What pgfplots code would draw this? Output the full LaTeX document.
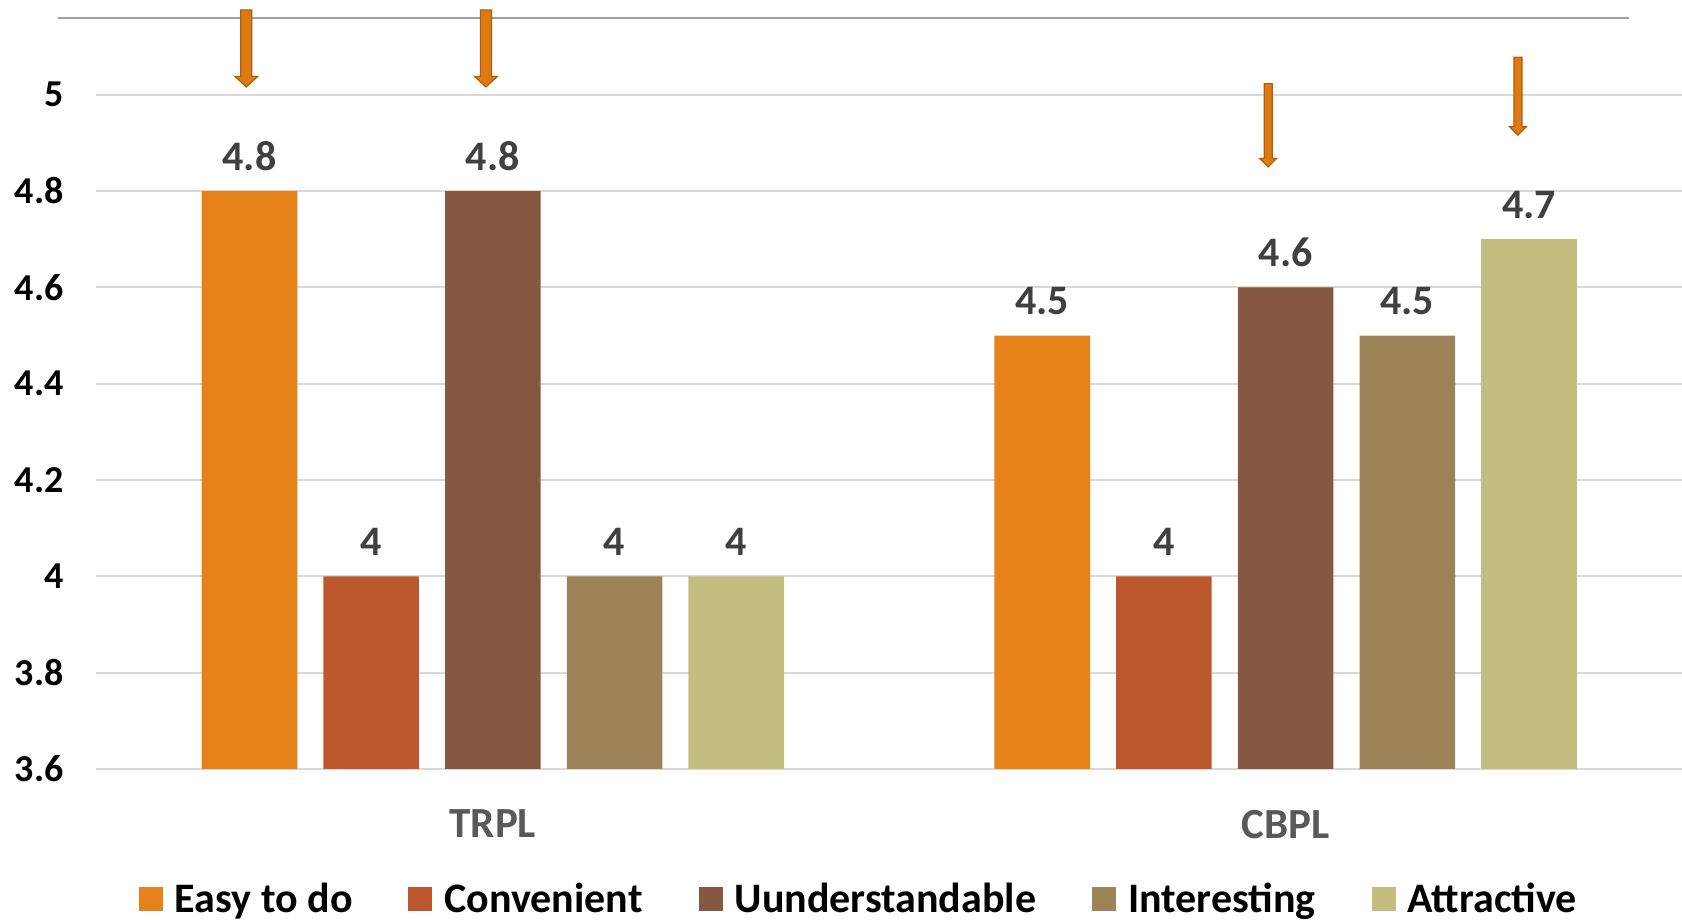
\documentclass[border=0pt]{standalone}
\usepackage{pgfplots}
\pgfplotsset{compat=1.18}
\usepackage{fontspec}
\setmainfont{Carlito}
\usetikzlibrary{calc}
\definecolor{cEasy}{HTML}{E5821A}
\definecolor{cConv}{HTML}{BD582E}
\definecolor{cUnd}{HTML}{865741}
\definecolor{cInt}{HTML}{9C8358}
\definecolor{cAtt}{HTML}{C3BD80}
\definecolor{arrowfill}{HTML}{DE7A12}
\definecolor{arrowdraw}{HTML}{B35E08}
\definecolor{gridgray}{HTML}{D9D9D9}
\definecolor{linegray}{HTML}{A0A0A0}
\definecolor{labgray}{HTML}{595959}
\definecolor{datagray}{HTML}{404040}
\newcommand{\blockarrow}[5]{%
  \filldraw[fill=arrowfill, draw=arrowdraw, line width=0.6pt, line join=miter]
   ($(#1)+(-#3,0)$) -- ($(#2)+(-#3,#5)$) -- ($(#2)+(-#4,#5)$) -- (#2) --
   ($(#2)+(#4,#5)$) -- ($(#2)+(#3,#5)$) -- ($(#1)+(#3,0)$) -- cycle;}
\begin{document}
\begin{tikzpicture}
\begin{axis}[
  name=ax, scale only axis, width=792.75pt, height=380.5pt,
  xmin=-0.5, xmax=1.5, ymin=3.6, ymax=5.18,
  xtick={0,1}, xticklabels={TRPL,CBPL},
  ytick={3.6,3.8,4,4.2,4.4,4.6,4.8,5},
  ymajorgrids, grid style={draw=gridgray, line width=1pt},
  axis line style={draw=none}, major tick length=0pt,
  /pgf/number format/assume math mode=true,
  yticklabel style={font=\fontsize{19}{21}\selectfont\bfseries, xshift=-13pt},
  xticklabel style={font=\fontsize{21.5}{24}\selectfont\bfseries, text=labgray, yshift=-17pt},
  nodes near coords,
  every node near coord/.append style={font=\fontsize{21}{24}\selectfont\bfseries, text=datagray, yshift=6.7pt},
  bar width=0.1206,
  legend columns=5,
  legend style={draw=none, fill=none, at={(0.4815,-0.171)}, anchor=center,
    font=\fontsize{21}{24}\selectfont\bfseries,
    /tikz/every odd column/.append style={column sep=4pt},
    /tikz/every even column/.append style={column sep=26pt}},
  legend image code/.code={\fill[#1] (0pt,-6pt) rectangle (12pt,6pt);},
]
\addplot[ybar, bar shift=0, fill=cEasy, draw=none] coordinates {(-0.307,4.8) (0.693,4.5)};
\addlegendentry{Easy to do}
\addplot[ybar, bar shift=0, fill=cConv, draw=none] coordinates {(-0.1535,4) (0.8465,4)};
\addlegendentry{Convenient}
\addplot[ybar, bar shift=0, fill=cUnd, draw=none] coordinates {(0,4.8) (1,4.6)};
\addlegendentry{Uunderstandable}
\addplot[ybar, bar shift=0, fill=cInt, draw=none] coordinates {(0.1535,4) (1.1535,4.5)};
\addlegendentry{Interesting}
\addplot[ybar, bar shift=0, fill=cAtt, draw=none] coordinates {(0.307,4) (1.307,4.7)};
\addlegendentry{Attractive}
\coordinate (t1) at (axis cs:-0.311,5.176);
\coordinate (h1) at (axis cs:-0.311,5.016);
\coordinate (t2) at (axis cs:-0.0088,5.176);
\coordinate (h2) at (axis cs:-0.0088,5.016);
\coordinate (t3) at (axis cs:0.978,5.023);
\coordinate (h3) at (axis cs:0.978,4.850);
\coordinate (t4) at (axis cs:1.293,5.078);
\coordinate (h4) at (axis cs:1.293,4.916);
\coordinate (l1) at (axis cs:-0.548,5.159);
\coordinate (l2) at (axis cs:1.433,5.159);
\end{axis}
\draw[linegray, line width=0.8pt] (l1) -- (l2);
\blockarrow{t1}{h1}{2.75pt}{5.75pt}{5.3pt}
\blockarrow{t2}{h2}{2.75pt}{5.75pt}{5.3pt}
\blockarrow{t3}{h3}{2pt}{4.2pt}{4.2pt}
\blockarrow{t4}{h4}{2pt}{4.2pt}{4.2pt}
\pgfresetboundingbox
\useasboundingbox ($(ax.south west)+(-48.25pt,-75.5pt)$) rectangle ($(ax.north east)+(0,4pt)$);
\end{tikzpicture}
\end{document}
